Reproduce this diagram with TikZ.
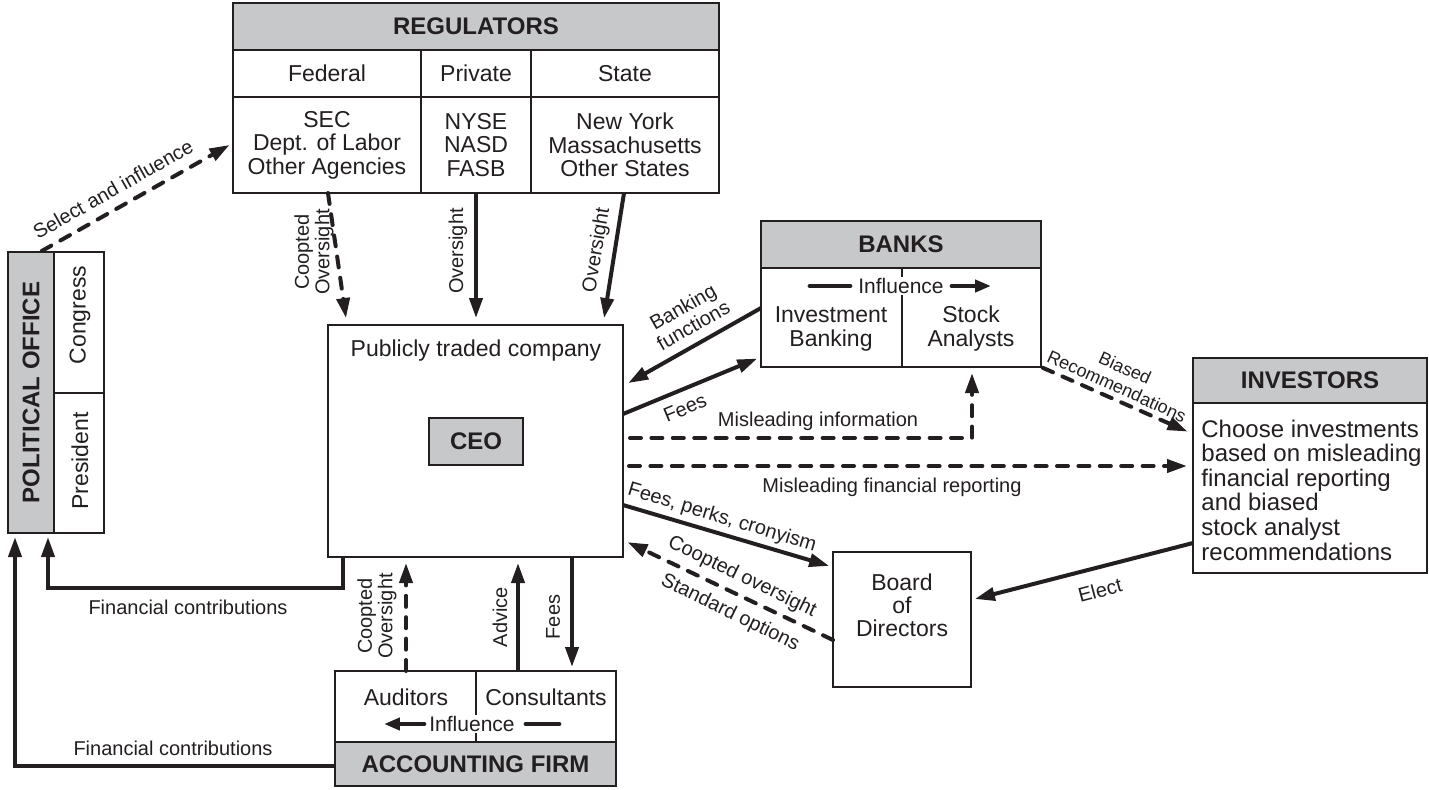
\documentclass[tikz,border=0pt]{standalone}
\usepackage{fontspec}
\setmainfont{Liberation Sans}
\usetikzlibrary{arrows.meta}
\definecolor{ink}{RGB}{35,31,32}
\definecolor{hgray}{RGB}{199,200,202}
\tikzset{
  bx/.style={draw=ink, line width=1.3pt, inner sep=0pt, outer sep=0pt, anchor=north west, text=ink, align=center, font=\fontsize{11.5}{11.7}\selectfont},
  hbx/.style={bx, fill=hgray, font=\fontsize{12}{14}\selectfont\bfseries},
  txt/.style={text=ink, inner sep=0pt, align=center, font=\fontsize{11.5}{12}\selectfont},
  lbl/.style={text=ink, inner sep=0pt, align=center, font=\fontsize{10}{9}\selectfont},
  headtip/.style={-{Triangle[length=10pt,width=6.5pt]}},
  smalltip/.style={-{Triangle[length=8pt,width=6pt]}},
  conn/.style={draw=ink, line width=2pt, headtip},
  dconn/.style={conn, dash pattern=on 5.5pt off 5.2pt, line cap=round},
  inflbar/.style={draw=ink, line width=2.4pt, line cap=round},
}
\begin{document}
\begin{tikzpicture}[x=0.5pt,y=-0.5pt]
\useasboundingbox (0,0) rectangle (1429,789);
\fill[white] (0,0) rectangle (1429,789);

% REGULATORS
\node[hbx, minimum width=243pt, minimum height=23.5pt] (regh) at (233,3) {REGULATORS};
\node[bx, minimum width=94pt, minimum height=23.5pt] (fedh) at (233,50) {Federal};
\node[bx, minimum width=55pt, minimum height=23.5pt] (prih) at (421,50) {Private};
\node[bx, minimum width=94pt, minimum height=23.5pt] (stah) at (531,50) {State};
\node[bx, minimum width=94pt, minimum height=48pt] (fedc) at (233,97) {SEC\\Dept. of Labor\\Other Agencies};
\node[bx, minimum width=55pt, minimum height=48pt] (pric) at (421,97) {NYSE\\NASD\\FASB};
\node[bx, minimum width=94pt, minimum height=48pt] (stac) at (531,97) {New York\\Massachusetts\\Other States};

% POLITICAL OFFICE
\node[hbx, minimum width=23pt, minimum height=140.5pt] (polh) at (8,252) {};
\node[txt, rotate=90, font=\fontsize{12}{14}\selectfont\bfseries] (polt) at (polh.center) {POLITICAL OFFICE};
\node[bx, minimum width=25pt, minimum height=70.5pt] (cong) at (54,252) {};
\node[txt, rotate=90] (congt) at (80,315) {Congress};
\node[bx, minimum width=25pt, minimum height=70pt] (pres) at (54,393) {};
\node[txt, rotate=90] (prest) at (80,461) {President};

% COMPANY
\node[bx, minimum width=147.5pt, minimum height=116pt] (comp) at (328,325) {};
\node[txt] (compt) at (476,351) {Publicly traded company};
\node[hbx, minimum width=47pt, minimum height=23.5pt] (ceo) at (429,418) {CEO};

% BANKS
\node[hbx, minimum width=140pt, minimum height=23.5pt] (bkh) at (761,221) {BANKS};
\node[bx, minimum width=70.5pt, minimum height=49.5pt] (ib) at (761,268) {};
\node[bx, minimum width=69.5pt, minimum height=49.5pt] (sa) at (902,268) {};
\node[txt] (ibt) at (831,329) {Investment\\Banking};
\node[txt] (sat) at (971,329) {Stock\\Analysts};
\node[txt, font=\fontsize{10.5}{12}\selectfont, fill=white, inner sep=0.5pt] (infb) at (901,286) {Influence};

% INVESTORS
\node[hbx, minimum width=117pt, minimum height=22.5pt] (invh) at (1193,358) {INVESTORS};
\node[bx, minimum width=117pt, minimum height=85pt] (invb) at (1193,403) {};
\node[txt, align=left, anchor=west, font=\fontsize{12}{12.3}\selectfont] (invt) at (1201,490) {Choose investments\\based on misleading\\financial reporting\\and biased\\stock analyst\\recommendations};

% BOARD
\node[bx, minimum width=69pt, minimum height=67.5pt] (board) at (833,552) {};
\node[txt, font=\fontsize{11.5}{11.5}\selectfont] (boardt) at (902,605) {Board\\of\\Directors};

% ACCOUNTING FIRM
\node[bx, minimum width=70.5pt, minimum height=35.5pt] (aud) at (335,671) {};
\node[bx, minimum width=70pt, minimum height=35.5pt] (cons) at (476,671) {};
\node[hbx, minimum width=140.5pt, minimum height=22pt] (acch) at (335,742) {ACCOUNTING FIRM};
\node[txt] (audt) at (406,697) {Auditors};
\node[txt] (const) at (546,697) {Consultants};
\node[txt, font=\fontsize{10.5}{12}\selectfont, fill=white, inner sep=0.5pt] (infa) at (472,724) {Influence};

% Select and influence
\draw[dconn, shorten <=1pt, shorten >=2pt] (40,0 |- polh.north) -- (fedc.west |- 0,143);
\node[lbl, rotate=29.6] (l1) at (113,189) {Select and influence};

% Regulators oversight
\draw[dconn, shorten >=3.5pt] (328,0 |- fedc.south) -- (347,0 |- comp.north);
\node[lbl, rotate=90] (l2) at (314,252) {Coopted\\Oversight};
\draw[conn, shorten >=3.5pt] (476,0 |- pric.south) -- (476,0 |- comp.north);
\node[lbl, rotate=90] (l3) at (458,251) {Oversight};
\draw[conn, shorten >=3.5pt] (624,0 |- stac.south) -- (603,0 |- comp.north);
\node[lbl, rotate=80.5] (l4) at (597,250) {Oversight};

% Banks
\draw[conn, shorten >=3pt] (ib.west |- 0,308) -- (comp.east |- 0,386);
\node[lbl, rotate=29.6, font=\fontsize{10}{10.5}\selectfont] (l5) at (688,316) {Banking\\functions};
\draw[conn, shorten >=2pt] (comp.east |- 0,414) -- (ib.west |- 0,357);
\node[lbl, rotate=22.7] (l6) at (685,408) {Fees};

% Misleading
\draw[dconn, shorten <=3.5pt, shorten >=3pt] (comp.east |- 0,438) -| (972,0 |- sa.south);
\node[lbl] (l7) at (818,421) {Misleading information};
\draw[dconn, shorten <=3pt, shorten >=3pt] (comp.east |- 0,466) -- (invb.west |- 0,466);
\node[lbl] (l8) at (892,487) {Misleading financial reporting};

% Board
\draw[conn, shorten >=2pt] (comp.east |- 0,505) -- (board.west |- 0,567);
\node[lbl, rotate=-16.7] (l9) at (722,518) {Fees, perks, cronyism};
\draw[dconn, shorten >=2.5pt] (board.west |- 0,640) -- (comp.east |- 0,540);
\node[lbl, rotate=-26] (l10) at (742,577) {Coopted oversight};
\node[lbl, rotate=-26] (l11) at (730,613) {Standard options};

% Biased recommendations
\draw[dconn, shorten <=1pt, shorten >=3pt] (sa.south east) -- (invb.west |- 0,434);
\node[lbl, rotate=-24.3, font=\fontsize{9}{10}\selectfont] (l12) at (1121,377) {Biased\\Recommendations};

% Elect
\draw[conn, shorten >=2pt] (invb.west |- 0,543) -- (board.east |- 0,600);
\node[lbl, rotate=14.8] (l14) at (1100,590) {Elect};

% Financial contributions
\draw[conn, shorten >=2pt] (343,0 |- comp.south) -- ++(0,31) -| (48,0 |- polh.south);
\node[lbl] (l15) at (188,607) {Financial contributions};
\draw[conn, shorten >=2pt] (acch.west |- 0,766) -| (15,0 |- polh.south);
\node[lbl] (l16) at (173,748) {Financial contributions};

% Accounting firm connectors
\draw[dconn, shorten >=3pt] (406,0 |- aud.north) -- (406,0 |- comp.south);
\node[lbl, rotate=90] (l17) at (377,616) {Coopted\\Oversight};
\draw[conn, shorten >=3pt] (518,0 |- cons.north) -- (518,0 |- comp.south);
\node[lbl, rotate=90] (l18) at (500,617) {Advice};
\draw[conn, shorten >=2pt] (572,0 |- comp.south) -- (572,0 |- cons.north);
\node[lbl, rotate=90] (l19) at (553,617) {Fees};

% Influence arrows
\draw[inflbar] ([xshift=-3.5pt]infb.west) -- ([xshift=-23.5pt]infb.west);
\draw[inflbar, smalltip] ([xshift=3.5pt]infb.east) -- ([xshift=23pt]infb.east);
\draw[inflbar, smalltip] ([xshift=-2pt]infa.west) -- ([xshift=-22pt]infa.west);
\draw[inflbar] ([xshift=5pt]infa.east) -- ([xshift=21.5pt]infa.east);
\end{tikzpicture}
\end{document}
